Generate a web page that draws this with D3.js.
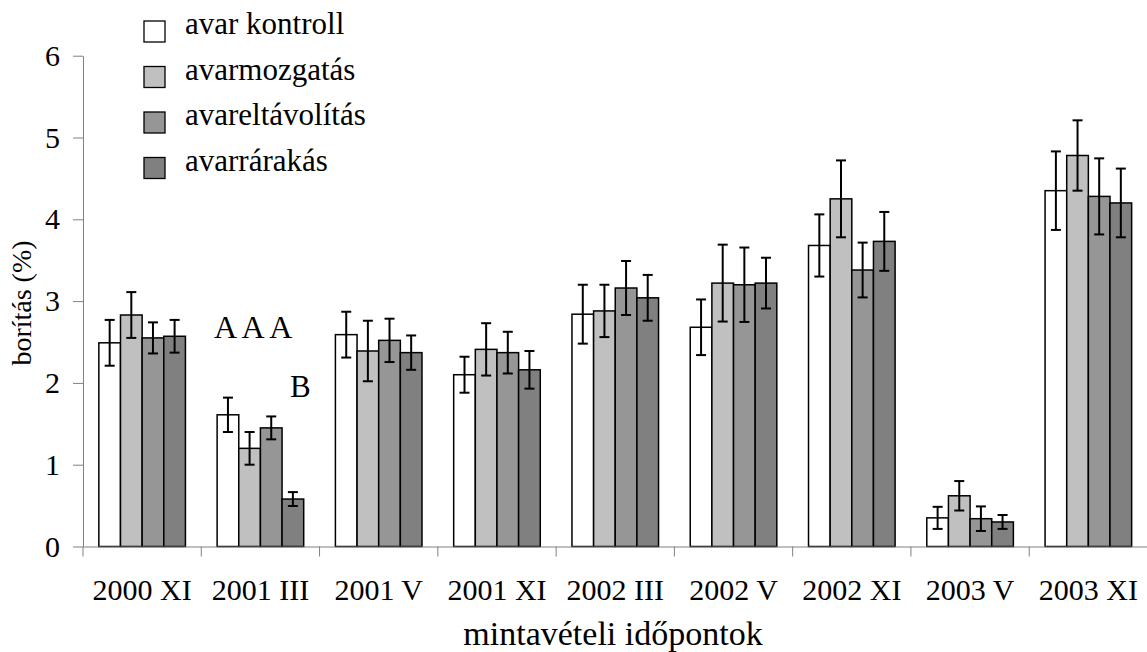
<!DOCTYPE html>
<html>
<head>
<meta charset="utf-8">
<script src="https://cdn.jsdelivr.net/npm/d3@7"></script>
<style>
  html, body { margin: 0; padding: 0; background: #fff; }
  svg { display: block; }
  svg text { font-family: "Liberation Serif", "Times New Roman", Times, "DejaVu Serif", "Noto Serif", serif !important; fill: #000; }
</style>
</head>
<body>
<svg id="chart" width="1147" height="652"></svg>
<script>
// Sampling dates
const categories = ["2000 XI", "2001 III", "2001 V", "2001 XI", "2002 III", "2002 V", "2002 XI", "2003 V", "2003 XI"];

// Treatments
const seriesNames = ["avar kontroll", "avarmozgatás", "avareltávolítás", "avarrárakás"];
const seriesColors = ["#ffffff", "#c0c0c0", "#969696", "#808080"];

// Mean cover (%) per treatment
const kontroll    = [2.49, 1.61, 2.59, 2.10, 2.84, 2.68, 3.68, 0.35, 4.35];
const mozgatas    = [2.83, 1.20, 2.39, 2.41, 2.88, 3.22, 4.25, 0.62, 4.78];
const eltavolitas = [2.55, 1.45, 2.52, 2.37, 3.16, 3.20, 3.38, 0.34, 4.28];
const rarakas     = [2.57, 0.58, 2.37, 2.16, 3.04, 3.22, 3.73, 0.30, 4.20];

// Standard errors
const kontrollErr    = [0.28, 0.21, 0.28, 0.22, 0.36, 0.34, 0.38, 0.135, 0.48];
const mozgatasErr    = [0.28, 0.20, 0.37, 0.32, 0.32, 0.47, 0.47, 0.18, 0.43];
const eltavolitasErr = [0.19, 0.14, 0.265, 0.255, 0.33, 0.455, 0.335, 0.15, 0.465];
const rarakasErr     = [0.20, 0.085, 0.21, 0.23, 0.28, 0.31, 0.36, 0.085, 0.42];

const yTicks = [0, 1, 2, 3, 4, 5, 6];

const values = [kontroll, mozgatas, eltavolitas, rarakas];
const errors = [kontrollErr, mozgatasErr, eltavolitasErr, rarakasErr];

const svg = d3.select("#chart");
const SERIF = '"Liberation Serif", "Times New Roman", Times, "DejaVu Serif", "Noto Serif", serif';

const x0 = d3.scaleBand().domain(categories).range([83, 1147.5]).padding(0);
const bw = x0.bandwidth();
const inset = bw * 0.134;
const x1 = d3.scaleBand().domain(seriesNames).range([inset, bw - inset]).padding(0);
const y = d3.scaleLinear().domain([0, 6]).range([546.5, 55.7]);

const axisColor = "#808080";

// Bars
const groups = svg.append("g").selectAll("g")
  .data(categories)
  .join("g")
  .attr("transform", d => `translate(${x0(d)},0)`);

seriesNames.forEach((name, si) => {
  groups.append("rect")
    .attr("x", x1(name))
    .attr("y", (d, i) => y(values[si][i]))
    .attr("width", x1.bandwidth())
    .attr("height", (d, i) => y(0) - y(values[si][i]))
    .attr("fill", seriesColors[si])
    .attr("stroke", "#000")
    .attr("stroke-width", 1.5);
});

// Error bars
const cap = 5;
seriesNames.forEach((name, si) => {
  const cx = x1(name) + x1.bandwidth() / 2;
  const eb = groups.append("g").attr("stroke", "#000").attr("stroke-width", 2);
  eb.append("line")
    .attr("x1", cx).attr("x2", cx)
    .attr("y1", (d, i) => y(values[si][i] + errors[si][i]))
    .attr("y2", (d, i) => y(values[si][i] - errors[si][i]));
  eb.append("line")
    .attr("x1", cx - cap).attr("x2", cx + cap)
    .attr("y1", (d, i) => y(values[si][i] + errors[si][i]))
    .attr("y2", (d, i) => y(values[si][i] + errors[si][i]));
  eb.append("line")
    .attr("x1", cx - cap).attr("x2", cx + cap)
    .attr("y1", (d, i) => y(values[si][i] - errors[si][i]))
    .attr("y2", (d, i) => y(values[si][i] - errors[si][i]));
});

// Y axis
const yAxis = svg.append("g")
  .attr("transform", `translate(${x0.range()[0]},0)`)
  .call(d3.axisLeft(y).tickValues(yTicks).tickFormat(d3.format("d")).tickSize(10).tickSizeOuter(0).tickPadding(13));
yAxis.attr("font-family", SERIF).attr("font-size", 30);
yAxis.select(".domain").attr("stroke", axisColor);
yAxis.selectAll(".tick line").attr("stroke", axisColor);
yAxis.selectAll("text").attr("fill", "#000");

// X axis: labels centred on groups, ticks at group boundaries
const xAxis = svg.append("g")
  .attr("transform", `translate(0,${y(0)})`)
  .call(d3.axisBottom(x0).tickSize(0).tickSizeOuter(0).tickPadding(32));
xAxis.attr("font-family", SERIF).attr("font-size", 30);
xAxis.select(".domain").attr("stroke", axisColor);
xAxis.selectAll("text").attr("fill", "#000");

svg.append("g")
  .selectAll("line")
  .data(categories)
  .join("line")
  .attr("x1", d => x0(d)).attr("x2", d => x0(d))
  .attr("y1", y(0)).attr("y2", y(0) + 10)
  .attr("stroke", axisColor);

// Axis titles
svg.append("text")
  .attr("x", 613).attr("y", 645)
  .attr("text-anchor", "middle")
  .attr("font-family", SERIF)
  .attr("font-size", 34)
  .text("mintavételi időpontok");

svg.append("text")
  .attr("transform", "translate(31,303) rotate(-90)")
  .attr("text-anchor", "middle")
  .attr("font-family", SERIF)
  .attr("font-size", 28)
  .text("borítás (%)");

// Significance letters
svg.append("text").attr("x", 214).attr("y", 338).attr("font-family", SERIF).attr("font-size", 32).text("A A A");
svg.append("text").attr("x", 290).attr("y", 397).attr("font-family", SERIF).attr("font-size", 31).text("B");

// Legend
const legend = svg.append("g").attr("transform", "translate(144,21)");
const li = legend.selectAll("g").data(seriesNames).join("g")
  .attr("transform", (d, i) => `translate(0,${i * 45.5})`);
li.append("rect")
  .attr("width", 21).attr("height", 21)
  .attr("fill", (d, i) => seriesColors[i])
  .attr("stroke", "#000").attr("stroke-width", 1.3);
li.append("text")
  .attr("x", 41).attr("y", 13)
  .attr("font-family", SERIF)
  .attr("font-size", 31)
  .text(d => d);
</script>
</body>
</html>
